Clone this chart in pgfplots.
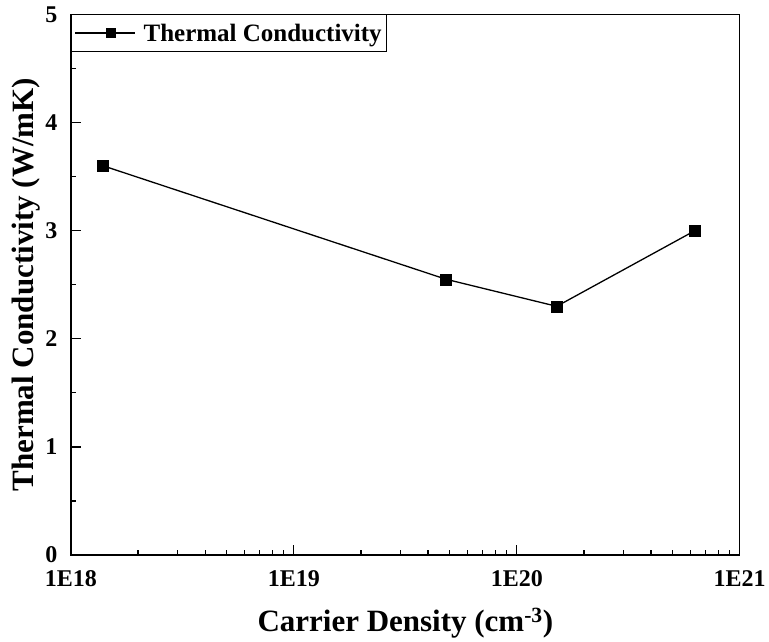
\documentclass[border=0pt]{standalone}
\usepackage{pgfplots}
\pgfplotsset{compat=1.18}
\usepackage{fontspec}
\setmainfont{Liberation Serif}
\begin{document}
\begin{tikzpicture}
\begin{axis}[
  scale only axis,
  width=669pt, height=541pt,
  xmode=log,
  xmin=1e18, xmax=1e21,
  ymin=0, ymax=5,
  xtick={1e18,1e19,1e20,1e21},
  xticklabels={1E18,1E19,1E20,1E21},
  minor xtick={2e18,3e18,4e18,5e18,6e18,7e18,8e18,9e18,2e19,3e19,4e19,5e19,6e19,7e19,8e19,9e19,2e20,3e20,4e20,5e20,6e20,7e20,8e20,9e20},
  ytick={0,1,2,3,4,5},
  minor ytick={0.5,1.5,2.5,3.5,4.5},
  tick align=inside,
  tick pos=left,
  major tick length=10pt,
  minor tick length=5pt,
  axis line style={line width=1.5pt},
  every tick/.style={black, line width=1.2pt},
  /pgf/number format/assume math mode=true,
  ticklabel style={font=\fontsize{24}{28}\selectfont\bfseries},
  xticklabel style={yshift=-12pt},
  yticklabel style={xshift=-10pt},
  xlabel={Carrier Density (cm\textsuperscript{-3})},
  ylabel={Thermal Conductivity (W/mK)},
  label style={font=\fontsize{31}{34}\selectfont\bfseries},
  xlabel style={yshift=-14pt},
  ylabel style={yshift=-2pt},
  legend cell align=left,
  legend style={at={(0,1)}, anchor=north west, draw=black, line width=0.8pt,
    font=\fontsize{25}{28}\selectfont\bfseries, inner xsep=3pt, inner ysep=7pt,
    /tikz/every even column/.append style={column sep=0pt}},
  legend image code/.code={
    \draw[line width=1.3pt] (-10pt,0pt) -- (50pt,0pt);
    \node[black, fill=black, rectangle, minimum size=10.5pt, inner sep=0pt] at (20pt,0pt) {};
  },
]
\addplot[black, line width=1.3pt, mark=square*, mark size=5.5pt, mark options={fill=black, line width=0.5pt}]
  coordinates {(1.39e18,3.60) (4.82e19,2.55) (1.51e20,2.30) (6.3e20,3.00)};
\addlegendentry{\hspace{6pt}Thermal Conductivity}
\end{axis}
\path (current bounding box.north west) ++(-9pt,3pt);
\end{tikzpicture}
\end{document}
